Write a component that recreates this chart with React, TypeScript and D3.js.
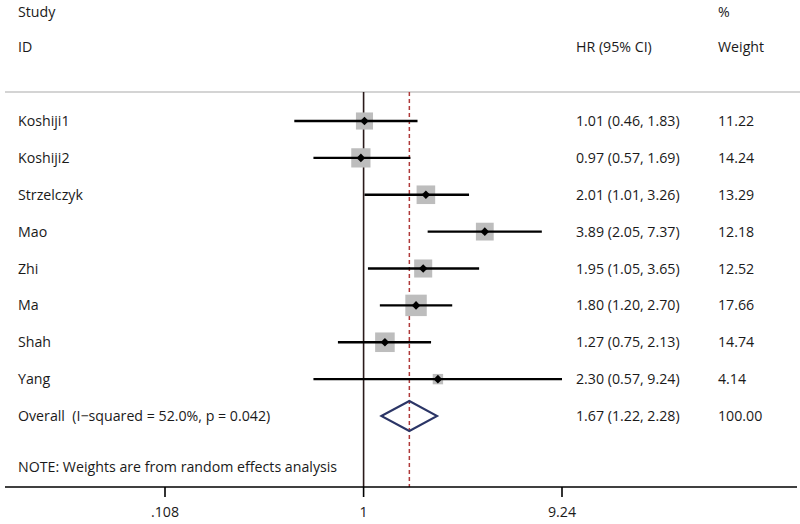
import React from "react";
import * as d3 from "d3";

const studies = ["Koshiji1", "Koshiji2", "Strzelczyk", "Mao", "Zhi", "Ma", "Shah", "Yang"];
const hr = [1.01, 0.97, 2.01, 3.89, 1.95, 1.8, 1.27, 2.3];
const lower = [0.46, 0.57, 1.01, 2.05, 1.05, 1.2, 0.75, 0.57];
const upper = [1.83, 1.69, 3.26, 7.37, 3.65, 2.7, 2.13, 9.24];
const weights = [11.22, 14.24, 13.29, 12.18, 12.52, 17.66, 14.74, 4.14];
const overall = { hr: 1.67, lo: 1.22, hi: 2.28, label: "Overall  (I\u2212squared = 52.0%, p = 0.042)", weight: "100.00" };
const tickValues = [0.108, 1, 9.24];
const tickLabels = [".108", "1", "9.24"];

const W = 800;
const H = 524;
const FONT = "'Open Sans', 'Noto Sans', sans-serif";

export default function App() {
  const x = d3.scaleLog().domain([0.108, 9.24]).range([165, 562]);
  const y = d3.scaleLinear().domain([0, 8]).range([121, 416]);
  const boxSize = d3.scaleSqrt().domain([0, 1]).range([0, 5.1]);
  const axisY = 487;
  const topY = 92;
  const fmt = d3.format(".2f");
  const txt = { fontFamily: FONT, fontSize: 14.2, fill: "#1a1a1a", style: { whiteSpace: "pre" as const } };

  return (
    <svg width={W} height={H} style={{ position: "absolute", left: 0, top: 0, background: "#fff" }}>
      {/* headers */}
      <text x={18} y={17} {...txt}>Study</text>
      <text x={18} y={52} {...txt}>ID</text>
      <text x={576} y={52} {...txt}>HR (95% CI)</text>
      <text x={718} y={17} {...txt}>%</text>
      <text x={718} y={52} {...txt}>Weight</text>
      <line x1={5} x2={800} y1={topY} y2={topY} stroke="#aaa" strokeWidth={1.2} />

      {/* reference lines */}
      <line x1={x(1)} x2={x(1)} y1={topY} y2={axisY} stroke="#2a1a1a" strokeWidth={1.6} />
      <line x1={x(overall.hr)} x2={x(overall.hr)} y1={topY} y2={axisY} stroke="#b03a3a" strokeWidth={1.5} strokeDasharray="4,3" />

      {studies.map((s, i) => {
        const cy = y(i);
        const cx = x(hr[i]);
        const b = boxSize(weights[i]);
        const m = 4.3;
        return (
          <g key={s}>
            <rect x={cx - b / 2} y={cy - b / 2} width={b} height={b} fill="#bdbdbd" />
            <line x1={x(lower[i])} x2={x(upper[i])} y1={cy} y2={cy} stroke="#000" strokeWidth={2.4} />
            <path d={`M${cx - m},${cy} L${cx},${cy - m} L${cx + m},${cy} L${cx},${cy + m} Z`} fill="#000" />
            <text x={18} y={cy + 5} {...txt}>{s}</text>
            <text x={576} y={cy + 5} {...txt}>{`${fmt(hr[i])} (${fmt(lower[i])}, ${fmt(upper[i])})`}</text>
            <text x={718} y={cy + 5} {...txt}>{fmt(weights[i])}</text>
          </g>
        );
      })}

      {/* overall */}
      {(() => {
        const cy = y(8);
        const h = 15;
        return (
          <g>
            <path
              d={`M${x(overall.lo)},${cy} L${x(overall.hr)},${cy - h} L${x(overall.hi)},${cy} L${x(overall.hr)},${cy + h} Z`}
              fill="none"
              stroke="#2b3566"
              strokeWidth={2}
            />
            <text x={18} y={cy + 5} {...txt}>{overall.label}</text>
            <text x={576} y={cy + 5} {...txt}>{`${fmt(overall.hr)} (${fmt(overall.lo)}, ${fmt(overall.hi)})`}</text>
            <text x={718} y={cy + 5} {...txt}>{overall.weight}</text>
          </g>
        );
      })()}

      <text x={18} y={472} {...txt}>NOTE: Weights are from random effects analysis</text>

      {/* axis */}
      <line x1={5} x2={797} y1={axisY} y2={axisY} stroke="#000" strokeWidth={1.6} />
      {tickValues.map((t, i) => (
        <g key={t}>
          <line x1={x(t)} x2={x(t)} y1={axisY} y2={axisY + 10} stroke="#000" strokeWidth={1.6} />
          <text x={x(t)} y={517} textAnchor="middle" {...txt}>{tickLabels[i]}</text>
        </g>
      ))}
    </svg>
  );
}
